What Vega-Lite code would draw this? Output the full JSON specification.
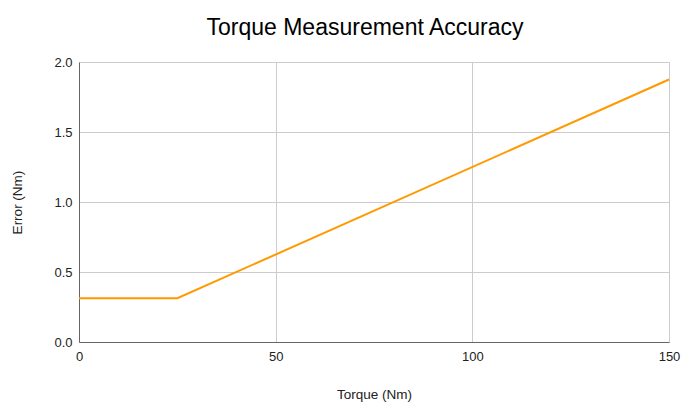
{
  "$schema": "https://vega.github.io/schema/vega-lite/v6.json",
  "autosize": "none",
  "width": 590,
  "height": 280,
  "padding": {"left": 79, "top": 62, "right": 13, "bottom": 61},
  "background": "white",
  "title": {
    "text": "Torque Measurement Accuracy",
    "font": "Liberation Sans",
    "fontSize": 23,
    "fontWeight": "normal",
    "color": "#000000",
    "anchor": "middle",
    "dx": -9,
    "offset": 16
  },
  "config": {
    "view": {"stroke": null},
    "axis": {
      "labelFont": "Liberation Sans",
      "labelFontSize": 13,
      "labelColor": "#222222",
      "titleFont": "Liberation Sans",
      "titleFontSize": 13.5,
      "titleFontWeight": "normal",
      "titleColor": "#222222",
      "gridColor": "#cccccc",
      "domainColor": "#666666",
      "ticks": false,
      "labelFlush": false
    }
  },
  "data": {
    "values": [
      {"torque": 0, "error": 0.3125},
      {"torque": 25, "error": 0.3125},
      {"torque": 150, "error": 1.875}
    ]
  },
  "layer": [
    {
      "mark": {"type": "line", "color": "#FF9900", "strokeWidth": 2},
      "encoding": {
        "x": {
          "field": "torque",
          "type": "quantitative",
          "title": "Torque (Nm)",
          "scale": {"domain": [0, 150], "nice": false},
          "axis": {"values": [0, 50, 100, 150], "labelPadding": 8, "titlePadding": 24, "format": "d"}
        },
        "y": {
          "field": "error",
          "type": "quantitative",
          "title": "Error (Nm)",
          "scale": {"domain": [0, 2]},
          "axis": {"values": [0, 0.5, 1, 1.5, 2], "format": ".1f", "labelPadding": 7, "titlePadding": 29}
        }
      }
    }
  ]
}
